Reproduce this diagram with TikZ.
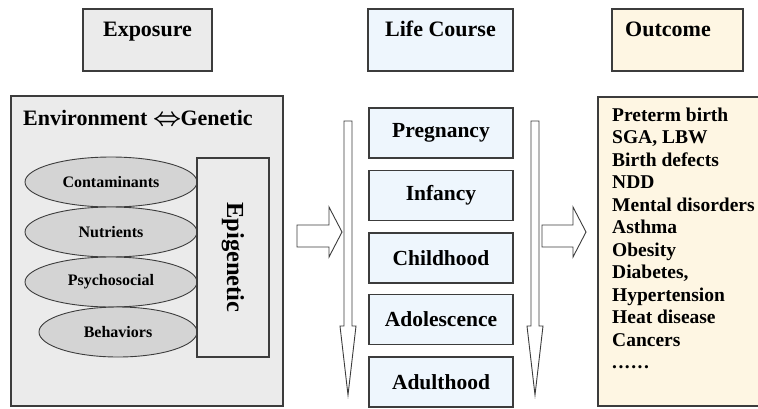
\documentclass[tikz,border=0pt]{standalone}
\usepackage{fontspec}
\setmainfont{Liberation Serif}
\usepackage{tikz}
\usetikzlibrary{positioning,shapes.geometric}
\definecolor{ln}{RGB}{60,60,60}
\definecolor{gy}{RGB}{235,235,235}
\definecolor{gd}{RGB}{212,212,212}
\definecolor{bu}{RGB}{238,246,253}
\definecolor{cr}{RGB}{254,246,227}

\tikzset{
  titlebox/.style={draw=ln,line width=1.1pt,minimum width=#1,minimum height=62pt,inner sep=0pt},
  titletext/.style={font=\bfseries\fontsize{22}{24}\selectfont,anchor=base},
  stagebox/.style={draw=ln,line width=1.1pt,fill=bu,minimum width=144pt,minimum height=50pt,
    inner sep=0pt,font=\bfseries\fontsize{21.5}{24}\selectfont},
  factor/.style={draw=ln,line width=0.9pt,fill=gd,ellipse,inner sep=0pt,minimum height=50pt,
    font=\bfseries\fontsize{16}{18}\selectfont},
  hollow/.style={draw=ln,line width=0.9pt,fill=white}
}

\begin{document}
\begin{tikzpicture}[x=1pt,y=-1pt]
  \clip (0,0) rectangle (758,408);
  \fill[white] (0,0) rectangle (758,408);

  % column titles
  \node[titlebox=129pt,fill=gy] (exp) at (147.5,40) {};
  \node[titletext] (expt) at (147.5,36) {Exposure};
  \node[titlebox=145pt,fill=bu] (life) at (440.5,40) {};
  \node[titletext] (lifet) at (440.5,36) {Life Course};
  \node[titlebox=131pt,fill=cr] (out) at (677.5,40) {};
  \node[titletext] (outt) at (668,36) {Outcome};

  % exposure panel
  \draw[draw=ln,line width=1.1pt,fill=gy] (11,96) rectangle (283,406);
  \node[anchor=base west,font=\bfseries\fontsize{22}{24}\selectfont,inner sep=0pt] (envgen) at (23,125)
    {Environment {\fontsize{27}{27}\selectfont\boldmath$\Leftrightarrow$}\kern-1pt Genetic};

  \node[factor,minimum width=172pt] (cont) at (111,182) {Contaminants};
  \node[factor,minimum width=172pt] (nutr) at (111,232) {Nutrients};
  \node[factor,minimum width=172pt] (psy) at (111,282) {Psychosocial};
  \node[factor,minimum width=158pt] (beh) at (118,332) {Behaviors};

  \node[draw=ln,line width=1.1pt,fill=gy,minimum width=72pt,minimum height=199pt,inner sep=0pt] (epi) at (233,257.5) {};
  \node[rotate=-90,font=\bfseries\fontsize{24.5}{26}\selectfont] (epit) at (epi.center) {Epigenetic};

  % block arrows
  \draw[hollow] (297,225) -- (329,225) -- (329,207) -- (342,232) -- (329,257) -- (329,247) -- (297,247) -- cycle;
  \draw[hollow] (542,225) -- (573,225) -- (573,207) -- (586,232) -- (573,257) -- (573,247) -- (542,247) -- cycle;

  % time arrows
  \draw[hollow] (344,121) -- (352,121) -- (352,326) -- (356,326) -- (348,395) -- (340,326) -- (344,326) -- cycle;
  \draw[hollow] (531,121) -- (539,121) -- (539,326) -- (543,326) -- (535,395) -- (527,326) -- (531,326) -- cycle;

  % life stages
  \node[stagebox] (preg) at (441,133) {Pregnancy};
  \node[stagebox] (inf) at (441,195.5) {Infancy};
  \node[stagebox] (child) at (441,258) {Childhood};
  \node[stagebox] (adol) at (441,319.5) {Adolescence};
  \node[stagebox] (adult) at (441,382) {Adulthood};

  % outcome panel
  \draw[draw=ln,line width=1.1pt,fill=cr] (598,97) rectangle (770,406);
  \node[anchor=north west,align=left,inner sep=0pt,font=\bfseries\fontsize{19.5}{22.5}\selectfont] (outlist) at (612,107.5)
    {Preterm birth\\SGA, LBW\\Birth defects\\NDD\\Mental disorders\\Asthma\\Obesity\\Diabetes,\\Hypertension\\Heat disease\\Cancers\\
     .\kern1.5pt.\kern1.5pt.\kern1.5pt.\kern1.5pt.\kern1.5pt.};
\end{tikzpicture}
\end{document}
